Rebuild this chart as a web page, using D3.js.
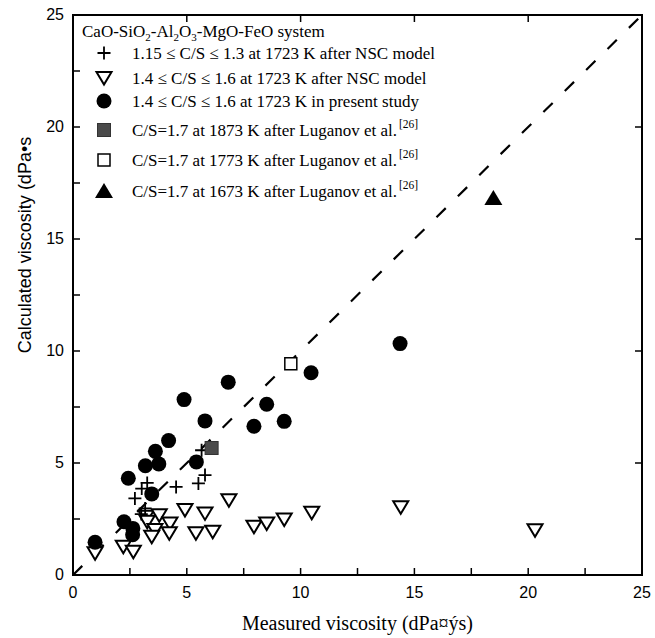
<!DOCTYPE html>
<html>
<head>
<meta charset="utf-8">
<script src="https://cdn.jsdelivr.net/npm/d3@7"></script>
<style>
  body { margin: 0; background: #fff; }
  svg { display: block; }
</style>
</head>
<body>
<svg id="chart" width="655" height="638"></svg>
<script>
// measured vs calculated viscosity
const nscLow = [ // 1.15 <= C/S <= 1.3, NSC model
    [3.26, 4.11], [3.02, 3.86], [2.72, 3.42], [4.53, 3.93], [5.51, 4.09],
    [5.80, 4.46], [3.17, 2.97], [3.0, 2.72], [5.65, 5.57]
];
const nscHigh = [ // 1.4 <= C/S <= 1.6, NSC model
    [0.97, 0.97], [2.21, 1.26], [2.65, 1.04], [3.21, 2.60], [3.79, 2.67],
    [3.26, 2.38], [4.26, 2.30], [3.60, 2.01], [3.46, 1.71], [4.23, 1.86],
    [4.92, 2.90], [5.80, 2.75], [5.40, 1.86], [6.14, 1.93], [6.85, 3.34],
    [7.95, 2.15], [8.51, 2.30], [9.28, 2.48], [10.49, 2.78], [14.40, 3.02],
    [20.30, 2.0]
];
const present = [ // present study
    [0.97, 1.46], [2.24, 2.38], [2.63, 2.08], [2.62, 1.80], [2.43, 4.32],
    [3.46, 3.62], [3.18, 4.88], [3.77, 4.96], [3.62, 5.52], [4.20, 6.0],
    [4.88, 7.83], [5.42, 5.05], [5.80, 6.88], [6.82, 8.61], [7.95, 6.64],
    [8.51, 7.62], [9.28, 6.86], [10.46, 9.03], [14.37, 10.33]
];
const lug1873 = [[6.09, 5.67]];
const lug1773 = [[9.57, 9.43]];
const lug1673 = [[18.47, 16.83]];

const xTicks = [0, 5, 10, 15, 20, 25];
const yTicks = [0, 5, 10, 15, 20, 25];
const minorTicks = [2.5, 7.5, 12.5, 17.5, 22.5];

const svg = d3.select('#chart');
const margin = { top: 15, left: 73 };
const width = 569;
const height = 560;

const serif = '"Liberation Serif", "Times New Roman", serif';
const sans = '"Liberation Sans", Arial, sans-serif';

const x = d3.scaleLinear().domain([0, 25]).range([0, width]);
const y = d3.scaleLinear().domain([0, 25]).range([height, 0]);

const g = svg.append('g')
    .attr('transform', `translate(${margin.left},${margin.top})`);

// frame
g.append('rect')
    .attr('width', width)
    .attr('height', height)
    .attr('fill', 'none')
    .attr('stroke', '#000')
    .attr('stroke-width', 2);

// ticks, all pointing inward
const tickLen = 7;
const tickG = g.append('g').attr('stroke', '#000').attr('stroke-width', 1.5);
[...xTicks, ...minorTicks].forEach(v => {
    tickG.append('line').attr('x1', x(v)).attr('x2', x(v)).attr('y1', height).attr('y2', height - tickLen);
});
[...yTicks, ...minorTicks].forEach(v => {
    tickG.append('line').attr('x1', 0).attr('x2', tickLen).attr('y1', y(v)).attr('y2', y(v));
});
xTicks.forEach(v => {
    tickG.append('line').attr('x1', x(v)).attr('x2', x(v)).attr('y1', 0).attr('y2', tickLen);
});
yTicks.forEach(v => {
    tickG.append('line').attr('x1', width).attr('x2', width - tickLen).attr('y1', y(v)).attr('y2', y(v));
});

// tick labels
g.append('g')
    .selectAll('text')
    .data(xTicks)
    .enter()
    .append('text')
    .attr('x', d => x(d))
    .attr('y', height + 23)
    .attr('text-anchor', 'middle')
    .attr('font-family', sans)
    .attr('font-size', 16)
    .text(d => d);

g.append('g')
    .selectAll('text')
    .data(yTicks)
    .enter()
    .append('text')
    .attr('x', -9)
    .attr('y', d => y(d) + 5)
    .attr('text-anchor', 'end')
    .attr('font-family', sans)
    .attr('font-size', 16)
    .text(d => d);

// axis titles
svg.append('text')
    .attr('x', margin.left + width / 2)
    .attr('y', 630)
    .attr('text-anchor', 'middle')
    .attr('font-family', serif)
    .attr('font-size', 20)
    .text('Measured viscosity (dPa¤ýs)');

svg.append('text')
    .attr('transform', `translate(31,${margin.top + 230}) rotate(-90)`)
    .attr('text-anchor', 'middle')
    .attr('font-family', sans)
    .attr('font-size', 18)
    .text('Calculated viscosity (dPa•s');

// y = x line
g.append('line')
    .attr('x1', x(0)).attr('y1', y(0))
    .attr('x2', x(25)).attr('y2', y(25))
    .attr('stroke', '#000')
    .attr('stroke-width', 2.2)
    .attr('stroke-dasharray', '13,17');

// marker shapes
const shapes = {
    cross: sel => sel.append('path')
        .attr('d', 'M-6.5,0H6.5M0,-6.5V6.5')
        .attr('stroke', '#000').attr('stroke-width', 1.8).attr('fill', 'none'),
    triDown: sel => sel.append('path')
        .attr('d', 'M-7.5,-6L7.5,-6L0,6.5Z')
        .attr('stroke', '#000').attr('stroke-width', 2).attr('fill', '#fff')
        .attr('stroke-linejoin', 'miter'),
    circle: sel => sel.append('circle')
        .attr('r', 7.5).attr('fill', '#000'),
    greySquare: sel => sel.append('rect')
        .attr('x', -6.5).attr('y', -6.5).attr('width', 13).attr('height', 13)
        .attr('fill', '#4a4a4a').attr('stroke', '#333').attr('stroke-width', 1),
    openSquare: sel => sel.append('rect')
        .attr('x', -6).attr('y', -6).attr('width', 12).attr('height', 12)
        .attr('fill', '#fff').attr('stroke', '#000').attr('stroke-width', 1.5),
    triUp: sel => sel.append('path')
        .attr('d', 'M-9,7L9,7L0,-8Z')
        .attr('fill', '#000')
};

function drawSeries(data, shape) {
    const pts = g.append('g')
        .selectAll('g')
        .data(data)
        .enter()
        .append('g')
        .attr('transform', d => `translate(${x(d[0])},${y(d[1])})`);
    shapes[shape](pts);
}

drawSeries(nscHigh, 'triDown');
drawSeries(nscLow, 'cross');
drawSeries(present, 'circle');
drawSeries(lug1873, 'greySquare');
drawSeries(lug1773, 'openSquare');
drawSeries(lug1673, 'triUp');

// legend
const legend = svg.append('g').attr('font-family', serif).attr('font-size', 17);

const title = legend.append('text').attr('x', 82).attr('y', 37);
[['CaO-SiO'], ['2', 'sub'], ['-Al'], ['2', 'sub'], ['O'], ['3', 'sub'], ['-MgO-FeO system']]
    .forEach(([t, kind]) => {
        const ts = title.append('tspan').text(t);
        if (kind === 'sub') ts.attr('font-size', 11).attr('dy', 4);
        else if (title.selectAll('tspan').size() > 1) ts.attr('dy', -4);
    });

const legendRows = [
    { shape: 'cross', y: 53, label: '1.15 ≤ C/S ≤ 1.3 at 1723 K after NSC model' },
    { shape: 'triDown', y: 78, label: '1.4 ≤ C/S ≤ 1.6 at 1723 K after NSC model' },
    { shape: 'circle', y: 101, label: '1.4 ≤ C/S ≤ 1.6 at 1723 K in present study' },
    { shape: 'greySquare', y: 130, label: 'C/S=1.7 at 1873 K after Luganov et al.', ref: true },
    { shape: 'openSquare', y: 160, label: 'C/S=1.7 at 1773 K after Luganov et al.', ref: true },
    { shape: 'triUp', y: 191, label: 'C/S=1.7 at 1673 K after Luganov et al.', ref: true }
];

legendRows.forEach(row => {
    const m = legend.append('g').attr('transform', `translate(104,${row.y})`);
    shapes[row.shape](m);
    const t = legend.append('text')
        .attr('x', 132)
        .attr('y', row.y + 6)
        .text(row.label);
    if (row.ref) {
        t.append('tspan').attr('font-size', 11.5).attr('dx', 2).attr('dy', -8).text('[26]');
    }
});
</script>
</body>
</html>
